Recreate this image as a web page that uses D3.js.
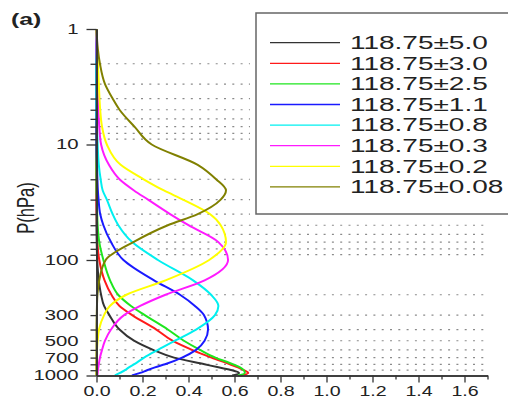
<!DOCTYPE html>
<html>
<head>
<meta charset="utf-8">
<script src="https://cdn.jsdelivr.net/npm/d3@7"></script>
<style>
  body { margin: 0; background: #fff; }
  svg { display: block; font-family: "Liberation Sans", Arial, sans-serif; }
</style>
</head>
<body>
<div id="my_dataviz"></div>
<script>
// pressure levels (hPa) at which the weighting functions are read
var levels = [1, 1.5, 2, 3, 4, 5, 7, 10, 15, 20, 25, 30, 40, 50, 70, 100,
              150, 200, 250, 300, 400, 500, 600, 700, 800, 850, 900, 950, 1000];

var channels = ["118.75\u00b15.0", "118.75\u00b13.0", "118.75\u00b12.5", "118.75\u00b11.1",
                "118.75\u00b10.8", "118.75\u00b10.3", "118.75\u00b10.2", "118.75\u00b10.08"];
var colors = ["#333333", "#ff1a1a", "#1ee61e", "#1a1aff", "#00f0f0", "#ff1aff", "#ffff00", "#808000"];

// weighting function values, one per level
var wf_5_0  = [0, 0, 0, 0, 0, 0, 0, 0, 0, 0, 0, 0, 0, 0, 0.001, 0.003,
               0.01, 0.02, 0.033, 0.056, 0.10, 0.163, 0.246, 0.337, 0.47, 0.53, 0.59, 0.62, 0.59];
var wf_3_0  = [0, 0, 0, 0, 0, 0, 0, 0, 0, 0, 0, 0, 0.001, 0.002, 0.004, 0.012,
               0.035, 0.065, 0.10, 0.155, 0.26, 0.33, 0.415, 0.50, 0.58, 0.615, 0.64, 0.66, 0.625];
var wf_2_5  = [0, 0, 0, 0, 0, 0, 0, 0, 0, 0, 0, 0.002, 0.003, 0.005, 0.012, 0.03,
               0.059, 0.094, 0.15, 0.21, 0.31, 0.38, 0.45, 0.517, 0.594, 0.624, 0.64, 0.645, 0.615];
var wf_1_1  = [0, 0, 0, 0, 0, 0, 0, 0, 0.002, 0.004, 0.006, 0.009, 0.016, 0.03, 0.063, 0.117,
               0.25, 0.363, 0.428, 0.467, 0.485, 0.47, 0.433, 0.372, 0.298, 0.254, 0.22, 0.19, 0.154];
var wf_0_8  = [0, 0, 0, 0, 0, 0, 0.002, 0.005, 0.01, 0.018, 0.027, 0.045, 0.07, 0.095, 0.155, 0.267,
               0.42, 0.498, 0.53, 0.515, 0.433, 0.341, 0.267, 0.207, 0.163, 0.141, 0.124, 0.102, 0.08];
var wf_0_3  = [0, 0, 0.002, 0.004, 0.006, 0.008, 0.012, 0.02, 0.054, 0.10, 0.163, 0.224, 0.32, 0.40, 0.53, 0.572,
               0.47, 0.30, 0.19, 0.12, 0.063, 0.037, 0.024, 0.015, 0.01, 0.008, 0.006, 0.005, 0.004];
var wf_0_2  = [0, 0.003, 0.006, 0.01, 0.013, 0.016, 0.024, 0.045, 0.105, 0.205, 0.293, 0.376, 0.493, 0.54, 0.563, 0.49,
               0.30, 0.13, 0.058, 0.033, 0.011, 0.005, 0.002, 0.001, 0, 0, 0, 0, 0];
var wf_0_08 = [0, 0.006, 0.015, 0.037, 0.07, 0.10, 0.165, 0.24, 0.44, 0.52, 0.563, 0.54, 0.44, 0.31, 0.16, 0.04,
               0.012, 0.004, 0.002, 0.001, 0, 0, 0, 0, 0, 0, 0, 0, 0];
var series = [wf_5_0, wf_3_0, wf_2_5, wf_1_1, wf_0_8, wf_0_3, wf_0_2, wf_0_08];

// axis ticks
var xMajor = [0, 0.2, 0.4, 0.6, 0.8, 1.0, 1.2, 1.4, 1.6];
var xMinor = [0.1, 0.3, 0.5, 0.7, 0.9, 1.1, 1.3, 1.5, 1.7];
var yMajor = [1, 10, 100, 1000];
var yMinor = [2, 3, 4, 5, 6, 7, 8, 9, 20, 30, 40, 50, 60, 70, 80, 90, 200, 300, 400, 500, 600, 700, 800, 900];
var yLabels = [1, 10, 100, 300, 500, 700, 1000];

var margin = {top: 29, right: 20.5, bottom: 22.5, left: 96.5},
    width = 508 - margin.left - margin.right,
    height = 398 - margin.top - margin.bottom;

// the picture is stretched sideways, so text is too
var SX = 1.45;

var root = d3.select("#my_dataviz")
  .append("svg")
    .attr("width", 508)
    .attr("height", 398);

var svg = root.append("g")
    .attr("transform", "translate(" + margin.left + "," + margin.top + ")");

var x = d3.scaleLinear().domain([0, 1.7]).range([0, width]);
var y = d3.scaleLog().domain([1, 1000]).range([0, height]);

// dotted level lines
svg.selectAll("line.lev")
  .data(yMinor)
  .enter()
  .append("line")
    .attr("class", "lev")
    .attr("x1", x(0) + 3)
    .attr("x2", x(1.7))
    .attr("y1", function(d) { return y(d); })
    .attr("y2", function(d) { return y(d); })
    .attr("stroke", "#8a8a8a")
    .attr("stroke-width", 1.2)
    .attr("stroke-dasharray", "2,6.3");

// curves
var line = d3.line()
  .x(function(d) { return x(d[1]); })
  .y(function(d) { return y(d[0]); })
  .curve(d3.curveMonotoneY);

svg.selectAll("path.wf")
  .data(series)
  .enter()
  .append("path")
    .attr("class", "wf")
    .attr("fill", "none")
    .attr("stroke", function(d, i) { return colors[i]; })
    .attr("stroke-width", 2)
    .attr("d", function(d) { return line(levels.map(function(p, j) { return [p, d[j]]; })); });

// legend box (white, covers the level lines behind it)
var leg = root.append("g");
leg.append("rect")
  .attr("x", 250).attr("y", 10).attr("width", 280).attr("height", 205)
  .attr("fill", "#fff");
leg.append("rect")
  .attr("x", 256).attr("y", 13).attr("width", 270).attr("height", 201)
  .attr("fill", "#fff").attr("stroke", "#666").attr("stroke-width", 1.5);

var rows = leg.selectAll("g.row")
  .data(channels)
  .enter()
  .append("g")
    .attr("class", "row")
    .attr("transform", function(d, i) { return "translate(0," + (42.7 + i * 20.6) + ")"; });
rows.append("line")
  .attr("x1", 270).attr("x2", 340)
  .attr("stroke", function(d, i) { return colors[i]; })
  .attr("stroke-width", 1.3);
rows.append("text")
  .attr("transform", "translate(350,6.3) scale(1.6,1)")
  .attr("font-size", 17.5)
  .attr("fill", "#222")
  .text(function(d) { return d; });

// axes
function styleAxis(g) {
  g.select(".domain").attr("stroke", "#333").attr("stroke-width", 1.5);
  g.selectAll(".tick line").attr("stroke", "#333").attr("stroke-width", 1.3);
  g.selectAll("text").attr("font-size", 14).attr("fill", "#222")
    .attr("font-family", "Liberation Sans, Arial, sans-serif");
}

var gx = svg.append("g")
  .attr("transform", "translate(0," + height + ")")
  .call(d3.axisBottom(x).tickValues(xMajor).tickSize(7).tickPadding(4)
        .tickSizeOuter(0).tickFormat(d3.format(".1f")))
  .call(styleAxis);
gx.selectAll("text").attr("transform", "scale(1.4,1)");

svg.append("g")
  .attr("transform", "translate(0," + height + ")")
  .call(d3.axisBottom(x).tickValues(xMinor).tickSize(4).tickSizeOuter(0).tickFormat(""))
  .call(styleAxis);

var gy = svg.append("g")
  .call(d3.axisLeft(y).tickValues(yMajor).tickSize(10).tickPadding(8)
        .tickSizeOuter(0).tickFormat(function(d) { return yLabels.indexOf(d) >= 0 ? d : ""; }))
  .call(styleAxis);
gy.selectAll("text").attr("x", -18 / SX).attr("transform", "scale(" + SX + ",1)");

var gy2 = svg.append("g")
  .call(d3.axisLeft(y).tickValues(yMinor).tickSize(6).tickPadding(12)
        .tickSizeOuter(0).tickFormat(function(d) { return yLabels.indexOf(d) >= 0 ? d : ""; }))
  .call(styleAxis);
gy2.selectAll("text").attr("x", -18 / SX).attr("transform", "scale(" + SX + ",1)");

// axis title and panel tag
root.append("text")
  .attr("transform", "translate(34,208) scale(1.4,1) rotate(-90)")
  .attr("text-anchor", "middle")
  .attr("font-size", 16.5)
  .attr("fill", "#222")
  .text("P(hPa)");

root.append("text")
  .attr("transform", "translate(11,25) scale(1.55,1)")
  .attr("font-size", 16)
  .attr("font-weight", "bold")
  .attr("fill", "#222")
  .text("(a)");
</script>
</body>
</html>
